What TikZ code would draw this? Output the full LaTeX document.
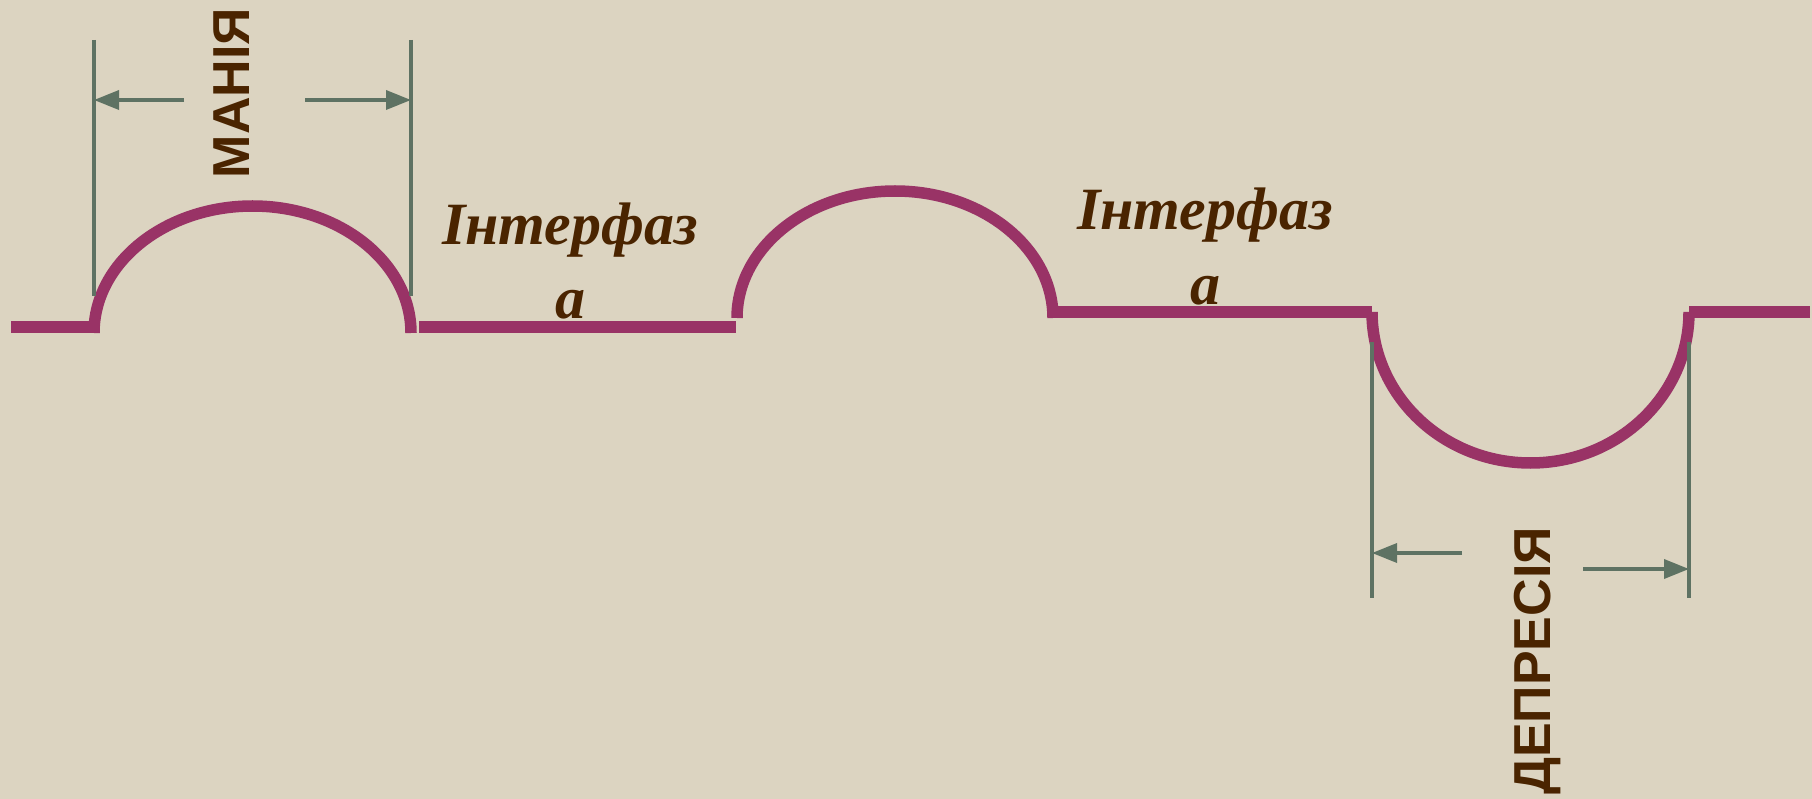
\documentclass[tikz,border=0pt]{standalone}
\usepackage{fontspec}
\usetikzlibrary{arrows.meta}
\newfontfamily\dimfont{Liberation Sans}
\newfontfamily\labfont{Liberation Serif}
\definecolor{bgc}{HTML}{DCD4C1}
\definecolor{wave}{HTML}{993366}
\definecolor{dimc}{HTML}{5E7263}
\definecolor{txtc}{HTML}{4A2400}
\tikzset{
  waveline/.style={draw=wave, line width=11.5pt, line cap=butt},
  dimline/.style={draw=dimc, line width=3.5pt},
  dimarrow/.style={draw=dimc, line width=3.5pt, -{Triangle[length=25pt,width=19pt]}},
  capslabel/.style={text=txtc, rotate=90, anchor=base, inner sep=0pt, font=\dimfont\bfseries\fontsize{52}{60}\selectfont},
  phaselabel/.style={text=txtc, anchor=base, inner sep=0pt, font=\labfont\bfseries\itshape\fontsize{60}{72}\selectfont}
}
\begin{document}
\begin{tikzpicture}[x=1pt,y=1pt]
\fill[bgc] (0,0) rectangle (1812,-799);
\useasboundingbox (0,0) rectangle (1812,-799);
% wave segments
\coordinate (l1a) at (11,-327);
\coordinate (l1b) at (94,-327);
\coordinate (a1s) at (94,-333);
\coordinate (l2a) at (419,-327);
\coordinate (l2b) at (736,-327);
\coordinate (a2s) at (737,-318);
\coordinate (l3a) at (1053,-312);
\coordinate (l3b) at (1372,-312);
\coordinate (a3s) at (1372,-312);
\coordinate (l4a) at (1689,-312);
\coordinate (l4b) at (1810,-312);
\draw[waveline] (l1a) -- (l1b);
\draw[waveline] (a1s) arc[start angle=180, end angle=0, x radius=158.5pt, y radius=127pt];
\draw[waveline] (l2a) -- (l2b);
\draw[waveline] (a2s) arc[start angle=180, end angle=0, x radius=158pt, y radius=127pt];
\draw[waveline] (l3a) -- (l3b);
\draw[waveline] (a3s) arc[start angle=180, end angle=360, x radius=158.5pt, y radius=151pt];
\draw[waveline] (l4a) -- (l4b);
% mania dimension
\coordinate (m1t) at (94,-40);
\coordinate (m1b) at (94,-296);
\coordinate (m2t) at (411,-40);
\coordinate (m2b) at (411,-296);
\draw[dimline] (m1t) -- (m1b);
\draw[dimline] (m2t) -- (m2b);
\coordinate (ma1) at (184,-100);
\coordinate (ma1t) at (94,-100);
\coordinate (ma2) at (305,-100);
\coordinate (ma2t) at (411,-100);
\draw[dimarrow] (ma1) -- (ma1t);
\draw[dimarrow] (ma2) -- (ma2t);
\node[capslabel] (mania) at (249,-93) {МАНІЯ};
% depression dimension
\coordinate (d1t) at (1372,-342);
\coordinate (d1b) at (1372,-598);
\coordinate (d2t) at (1689,-342);
\coordinate (d2b) at (1689,-598);
\draw[dimline] (d1t) -- (d1b);
\draw[dimline] (d2t) -- (d2b);
\coordinate (da1) at (1462,-553);
\coordinate (da1t) at (1372,-553);
\coordinate (da2) at (1583,-569);
\coordinate (da2t) at (1689,-569);
\draw[dimarrow] (da1) -- (da1t);
\draw[dimarrow] (da2) -- (da2t);
\node[capslabel] (depr) at (1550,-661) {ДЕПРЕСІЯ};
% interphase labels
\node[phaselabel] (int1) at (570,-245) {Інтерфаз};
\node[phaselabel] (int1b) at (570,-319) {а};
\node[phaselabel] (int2) at (1205,-230) {Інтерфаз};
\node[phaselabel] (int2b) at (1205,-305) {а};
\end{tikzpicture}
\end{document}
